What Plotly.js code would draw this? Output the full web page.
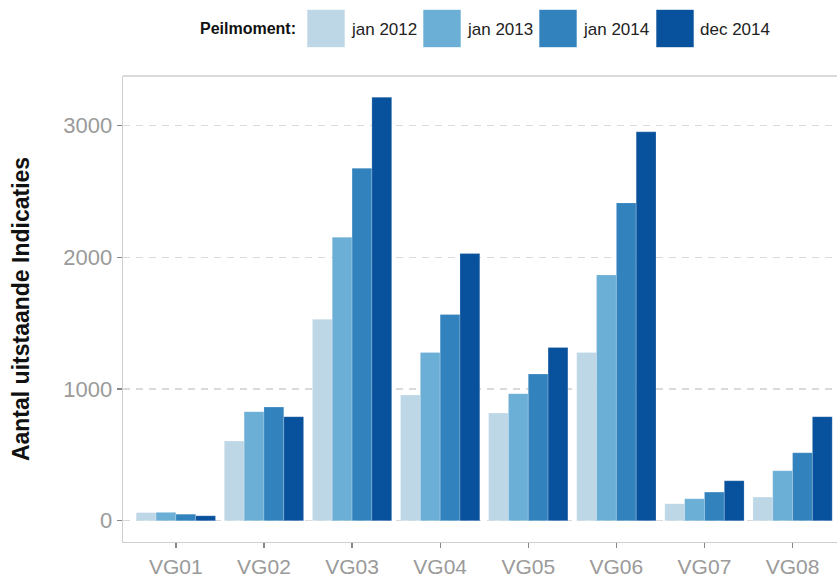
<!DOCTYPE html>
<html>
<head>
<meta charset="utf-8">
<script src="https://cdn.plot.ly/plotly-3.0.1.min.js"></script>
<style>html,body{margin:0;padding:0;background:#fff;overflow:hidden}</style>
</head>
<body>
<div id="chart" style="width:837px;height:579px"></div>
<script>
// ---- data ----
const categories = ["VG01","VG02","VG03","VG04","VG05","VG06","VG07","VG08"];
const seriesNames = ["jan 2012","jan 2013","jan 2014","dec 2014"];
const jan2012 = [62, 605, 1529, 954, 818, 1278, 129, 180];
const jan2013 = [64, 828, 2152, 1278, 965, 1866, 167, 380];
const jan2014 = [50, 863, 2676, 1565, 1114, 2413, 218, 516];
const dec2014 = [38, 790, 3215, 2028, 1316, 2952, 304, 790];
const legendTitle = "Peilmoment:";
const yTitle = "Aantal uitstaande Indicaties";
const yTicks = [0, 1000, 2000, 3000];

// ---- style ----
const colors = ["#BDD7E7", "#6BAED6", "#3182BD", "#08519C"];
const seriesValues = [jan2012, jan2013, jan2014, dec2014];
const FONT = "Liberation Sans, Arial, sans-serif";

const traces = seriesValues.map((vals, i) => ({
  type: "bar",
  name: seriesNames[i],
  x: categories,
  y: vals,
  marker: {color: colors[i], line: {color: "rgba(255,255,255,0.35)", width: 0.6}},
  hoverinfo: "x+y+name"
}));

const W = 837, H = 579;
const M = {l: 123, r: 0, t: 76, b: 37};
const pw = W - M.l - M.r, ph = H - M.t - M.b;
const px2x = p => (p - M.l) / pw;
const py2y = p => (H - M.b - p) / ph;

// custom legend (large square keys like the reference)
const keyLeft = [307, 423, 539, 656];
const keySize = 38;
const keyTop = 9.5;
const shapes = [
  // top border of the panel
  {type: "line", xref: "paper", yref: "paper", x0: 0, x1: 1.01, y0: 1, y1: 1,
   line: {color: "#CFCFCF", width: 1.3}}
];
const annotations = [
  {xref: "paper", yref: "paper", x: px2x(298), y: py2y(keyTop + keySize / 2),
   xanchor: "right", yanchor: "middle", showarrow: false, text: "<b>" + legendTitle + "</b>",
   font: {family: FONT, size: 16, color: "#111"}}
];
seriesNames.forEach((n, i) => {
  shapes.push({type: "rect", xref: "paper", yref: "paper",
    x0: px2x(keyLeft[i]), x1: px2x(keyLeft[i] + keySize),
    y0: py2y(keyTop + keySize), y1: py2y(keyTop),
    fillcolor: colors[i], line: {color: "rgba(255,255,255,0.6)", width: 1}});
  annotations.push({xref: "paper", yref: "paper", x: px2x(keyLeft[i] + keySize + 4),
    y: py2y(keyTop + keySize / 2 + 1), xanchor: "left", yanchor: "middle", showarrow: false,
    text: n, font: {family: FONT, size: 17, color: "#222"}});
});

const layout = {
  width: W, height: H,
  margin: M,
  paper_bgcolor: "#fff", plot_bgcolor: "#fff",
  barmode: "group", bargap: 0.1, bargroupgap: 0,
  showlegend: false,
  font: {family: FONT},
  xaxis: {
    type: "category",
    range: [-0.6, -0.6 + pw / 88.1],
    showgrid: false, zeroline: false,
    showline: true, linecolor: "#CFCFCF", linewidth: 1.3,
    ticks: "outside", ticklen: 5, tickcolor: "#888", tickwidth: 1.3,
    tickfont: {family: FONT, size: 21, color: "#9A9A9A"},
    fixedrange: true
  },
  yaxis: {
    range: [-161, 3376],
    tickvals: yTicks,
    showgrid: true, gridcolor: "#DADADA", gridwidth: 1.2, griddash: "7px,6px",
    zeroline: false,
    showline: true, linecolor: "#CFCFCF", linewidth: 1.3,
    ticks: "outside", ticklen: 5, tickcolor: "#888", tickwidth: 1.3,
    tickfont: {family: FONT, size: 22, color: "#9A9A9A"},
    title: {text: "<b>" + yTitle + "</b>", font: {family: FONT, size: 23, color: "#111"}, standoff: 27},
    fixedrange: true
  },
  shapes: shapes,
  annotations: annotations
};

Plotly.newPlot("chart", traces, layout, {displayModeBar: false, staticPlot: true});
</script>
</body>
</html>
